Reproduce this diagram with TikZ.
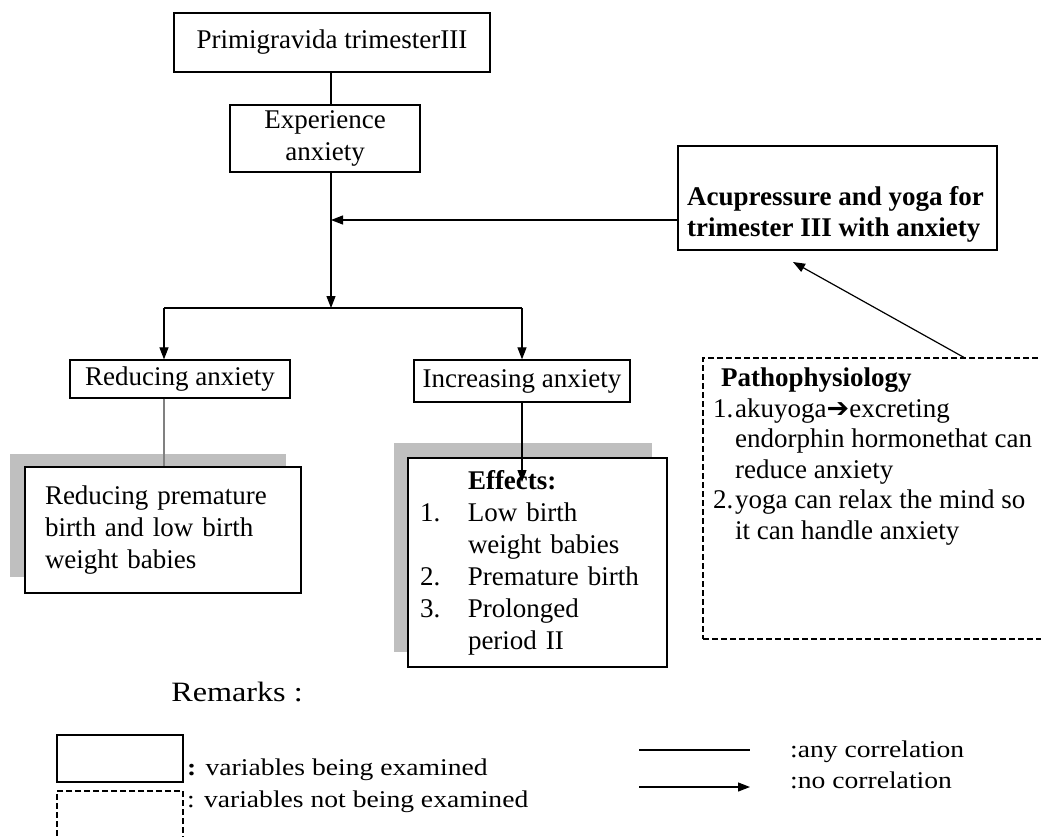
\documentclass[tikz,border=0pt]{standalone}
\usepackage{fontspec}
\setmainfont{Liberation Serif}
\newfontfamily\legfont[FakeStretch=1.15]{Liberation Serif}
\newfontfamily\symfont{DejaVu Sans}
\usetikzlibrary{arrows.meta,positioning}
\newcommand{\numit}[2][48pt]{\makebox[#1][l]{#2}}
\tikzset{
  >={Triangle[length=12pt,width=9pt]},
  varbox/.style={draw,fill=white,line width=1.3pt,inner sep=0pt,align=center,font=\fontsize{27}{32}\selectfont},
  txt/.style={inner sep=0pt,align=left,font=\fontsize{27}{30.5}\selectfont},
  dashbox/.style={draw,line width=1.1pt,dash pattern=on 6pt off 3pt,inner sep=0pt},
  legtxt/.style={inner sep=0pt,anchor=west,font=\legfont\fontsize{24}{28}\selectfont},
  conn/.style={line width=1.2pt}
}
\begin{document}
\begin{tikzpicture}[x=1pt,y=-1pt]
  \useasboundingbox (0,0) rectangle (1041,836);
  \fill[gray!50] (10,454) rectangle (286,577);
  \fill[gray!50] (394,443) rectangle (652,652);

  \node[varbox,minimum width=316pt,minimum height=59pt] (prim) at (332,42.5) {Primigravida trimesterIII};
  \node[varbox,minimum width=190pt,minimum height=67pt] (exper) at (325,138.5) {Experience\\anxiety};
  \node[varbox,minimum width=319pt,minimum height=104pt] (acu) at (837.5,198) {};
  \node[txt,anchor=west,font=\fontsize{27}{31}\selectfont\bfseries] (acutxt) at (687,214) {Acupressure and yoga for\\trimester III with anxiety};
  \node[varbox,minimum width=220pt,minimum height=38pt] (red) at (180,379) {Reducing anxiety};
  \node[varbox,minimum width=216pt,minimum height=42pt] (inc) at (522,381) {Increasing anxiety};
  \node[varbox,align=left,text width=236pt,inner xsep=20pt,minimum height=126pt] (lowl) at (163,530)
    {Reducing premature\\birth and low birth\\weight babies};
  \node[varbox,align=left,text width=235pt,inner xsep=12pt,minimum height=209pt] (eff) at (537.5,562.5)
    {\hspace*{48pt}\textbf{Effects:}\\\numit{1.}Low birth\\\hspace*{48pt}weight babies\\\numit{2.}Premature birth\\\numit{3.}Prolonged\\\hspace*{48pt}period II};
  \node[dashbox,minimum width=360pt,minimum height=281pt] (patho) at (883,498.5) {};
  \node[txt,anchor=north west] (pathotxt) at (713,368)
    {\hspace*{8pt}\textbf{Pathophysiology}\\\numit[22pt]{1.}akuyoga{\symfont ➔}excreting\\\hspace*{22pt}endorphin hormonethat can\\\hspace*{22pt}reduce anxiety\\\numit[22pt]{2.}yoga can relax the mind so\\\hspace*{22pt}it can handle anxiety};

  \coordinate (meet) at (331,220);
  \coordinate (split) at (331,308);
  \coordinate (bl) at (164,308);
  \coordinate (br) at (522,308);
  \coordinate (efftip) at (522,482);
  \coordinate (acutip) at (793,262);

  \draw[conn] (prim.south -| split) -- (split |- exper.north);
  \draw[conn,->] (split |- exper.south) -- (split);
  \draw[conn,->] (acu.west |- meet) -- (meet);
  \draw[conn] (bl) -- (br);
  \draw[conn,->] (bl) -- (bl |- red.north);
  \draw[conn,->] (br) -- (br |- inc.north);
  \draw[conn,gray] (bl |- red.south) -- (bl |- lowl.north);
  \draw[conn,->] (inc.south) -- (efftip);
  \draw[conn,->] ([xshift=81pt]patho.north) -- (acutip);

  \node[inner sep=0pt,font=\legfont\fontsize{28}{32}\selectfont] (remarks) at (237,692) {Remarks :};
  \node[varbox,minimum width=126pt,minimum height=47pt] (legvar) at (120,758.5) {};
  \node[dashbox,minimum width=126pt,minimum height=60pt] (legnovar) at (120,821) {};
  \node[legtxt] (legvartxt) at (187,770) {\textbf{:} variables being examined};
  \node[legtxt] (legnovartxt) at (187,802) {: variables not being examined};
  \coordinate (anya) at (639,750);
  \coordinate (anyb) at (750,750);
  \coordinate (noa) at (639,787);
  \coordinate (nob) at (750,787);
  \draw[conn] (anya) -- (anyb);
  \draw[conn,->] (noa) -- (nob);
  \node[legtxt] (anytxt) at (790,752) {:any correlation};
  \node[legtxt] (notxt) at (790,780) {:no correlation};
\end{tikzpicture}
\end{document}
